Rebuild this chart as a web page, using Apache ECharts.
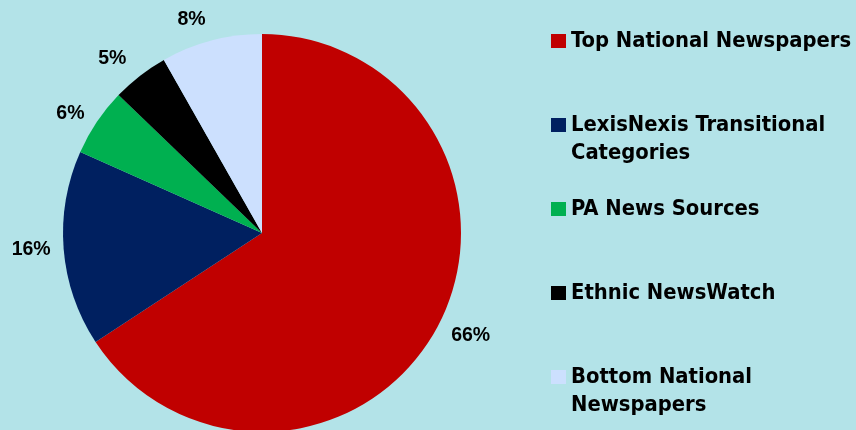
<!DOCTYPE html>
<html>
<head>
<meta charset="utf-8">
<script src="https://cdn.jsdelivr.net/npm/echarts@6/dist/echarts.min.js"></script>
<style>
  html, body { margin: 0; padding: 0; background: #b3e3e8; }
  #chart { width: 856px; height: 430px; }
</style>
</head>
<body>
<div id="chart"></div>
<script>
// data (shares, in percent)
const categories = [
    'Top National Newspapers',
    'LexisNexis Transitional\nCategories',
    'PA News Sources',
    'Ethnic NewsWatch',
    'Bottom National\nNewspapers'
];
const shares = [65.7, 15.9, 5.5, 4.6, 8.2];
const colors = ['#c00000', '#002060', '#00b050', '#000000', '#cce0fe'];
// how far each % label sits outside the pie (style only)
const labelGaps = [16, 13, 15, 22, 22];

let myChart = echarts.init(document.getElementById('chart'), null, {renderer: 'canvas'});

let pieData = categories.map((name, i) => ({
    name: name,
    value: shares[i],
    itemStyle: {color: colors[i]},
    labelLine: {length: labelGaps[i]}
}));

let option = {
    backgroundColor: '#b3e3e8',
    animation: false,
    legend: {
        orient: 'vertical',
        left: 551,
        top: -1,
        padding: 0,
        itemGap: 0,
        itemWidth: 15,
        itemHeight: 14,
        icon: 'rect',
        selectedMode: false,
        data: categories,
        // every item is 3 lines tall, so the icon lines up with the first text line
        formatter: (name) => name.indexOf('\n') > -1 ? '\n' + name : '\n' + name + '\n',
        textStyle: {
            fontFamily: '"DejaVu Sans Condensed", "DejaVu Sans", sans-serif',
            fontWeight: 'bold',
            fontSize: 21.8,
            lineHeight: 28,
            color: '#000'
        }
    },
    series: [{
        type: 'pie',
        center: [262, 233],
        radius: 199,
        startAngle: 90,
        clockwise: true,
        data: pieData,
        itemStyle: {borderWidth: 0},
        emphasis: {disabled: true},
        label: {
            show: true,
            position: 'outside',
            overflow: 'none',
            bleedMargin: 0,
            distanceToLabelLine: 0,
            formatter: (p) => Math.round(p.value) + '%',
            fontFamily: '"Liberation Sans", sans-serif',
            fontWeight: 'bold',
            fontSize: 19.5,
            color: '#000'
        },
        labelLine: {show: false, length2: 0}
    }]
};

myChart.setOption(option);
</script>
</body>
</html>
